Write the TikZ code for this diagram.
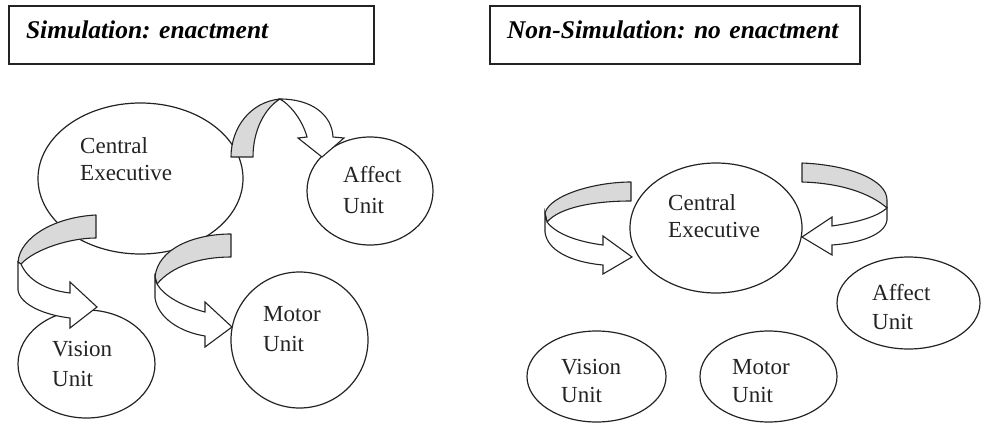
\documentclass[tikz,border=0pt]{standalone}
\usepackage{fontspec}
\setmainfont{Liberation Serif}
\usepackage{tikz}
\usetikzlibrary{shapes.geometric}
\frenchspacing
\definecolor{darkLine}{RGB}{35,35,35}
\definecolor{ribbonGray}{RGB}{217,217,217}
\tikzset{
    headbox/.style={rectangle, draw=darkLine, line width=2pt, anchor=north west, align=left,
                    inner xsep=17pt, inner ysep=0pt, text height=17pt, text depth=11pt,
                    minimum height=58pt, font=\fontsize{25.5}{30}\selectfont\bfseries\itshape},
    unit/.style={ellipse, draw=darkLine, line width=1.2pt, inner sep=0pt},
    unitlbl/.style={anchor=north west, align=left, inner sep=0pt, text=darkLine,
                    font=\fontsize{23}{#1}\selectfont},
    unitlbl/.default=29,
    backside/.style={fill=ribbonGray, draw=darkLine, line width=1.1pt, line join=round},
    frontside/.style={fill=white, draw=darkLine, line width=1.1pt, line join=miter}
}
\begin{document}
\begin{tikzpicture}[x=1pt, y=-1pt]
    \useasboundingbox (0,0) rectangle (985,423);
    % headings
    \node[headbox, text width=331pt] (simhead) at (8,5) {Simulation: enactment};
    \node[headbox, text width=336pt] (nonhead) at (489,5) {Non-Simulation: no enactment};
    % simulation side
    \node[unit, minimum width=205pt, minimum height=151pt] (ceA) at (140.5,178.5) {};
    \node[unit, minimum width=126pt, minimum height=108pt] (afA) at (370,191) {};
    \node[unit, minimum width=137pt, minimum height=108pt] (viA) at (86.5,364) {};
    \node[unit, minimum width=137pt, minimum height=136pt] (moA) at (299.5,340) {};
    \node[unitlbl=27] (ceAtxt) at (80,137.4) {Central\\Executive};
    \node[unitlbl=31] (afAtxt) at (343,166.4) {Affect\\Unit};
    \node[unitlbl=30] (viAtxt) at (52,341.4) {Vision\\Unit};
    \node[unitlbl=30] (moAtxt) at (263,306.4) {Motor\\Unit};
    % ribbon: executive -> affect
    \path[backside] (231,157) .. controls (231,128) and (250,102) .. (280,99)
        .. controls (265,108) and (253,130) .. (253,157) -- cycle;
    \path[frontside] (280,99) .. controls (312,99) and (332,115) .. (333,137) -- (344,138) -- (322,157)
        -- (298,138) -- (307,137) .. controls (303,122) and (292,106) .. (280,99) -- cycle;
    % ribbon: executive -> vision
    \path[backside] (96,215) .. controls (55,217) and (20,237) .. (18,262) -- (21,264)
        .. controls (35,249) and (70,238) .. (96,238) -- cycle;
    \path[frontside] (18,262) -- (18,290) .. controls (20,305) and (45,315) .. (70,318) -- (70,328)
        -- (97,307) -- (70,282) -- (70,293) .. controls (45,290) and (28,280) .. (21,264) -- cycle;
    % ribbon: executive -> motor
    \path[backside] (231,234) .. controls (195,234) and (158,248) .. (155,277) -- (157,284)
        .. controls (172,266) and (200,257) .. (231,257) -- cycle;
    \path[frontside] (155,277) -- (155,298) .. controls (158,318) and (180,332) .. (205,336) -- (205,347)
        -- (232,327) -- (205,302) -- (205,312) .. controls (182,306) and (164,296) .. (157,284) -- cycle;
    % non-simulation side
    \node[unit, minimum width=172pt, minimum height=130pt] (ceB) at (716,228) {};
    \node[unit, minimum width=143pt, minimum height=92pt] (afB) at (908.5,303) {};
    \node[unit, minimum width=139pt, minimum height=91pt] (viB) at (596.5,376.5) {};
    \node[unit, minimum width=137pt, minimum height=91pt] (moB) at (768.5,376.5) {};
    \node[unitlbl=27] (ceBtxt) at (668,194.4) {Central\\Executive};
    \node[unitlbl] (afBtxt) at (872,284.4) {Affect\\Unit};
    \node[unitlbl=28] (viBtxt) at (561,359.4) {Vision\\Unit};
    \node[unitlbl=28] (moBtxt) at (732,359.4) {Motor\\Unit};
    % ribbon from the left back into the executive
    \path[backside] (631,182) .. controls (595,182) and (550,195) .. (545,213) -- (547,222)
        .. controls (560,207) and (595,201) .. (631,201) -- cycle;
    \path[frontside] (545,213) -- (545,232) .. controls (547,250) and (570,262) .. (603,265) -- (603,274)
        -- (632,257) -- (603,236) -- (603,245) .. controls (580,242) and (557,235) .. (547,222) -- cycle;
    % ribbon from the right back into the executive
    \path[backside] (802,163) .. controls (850,165) and (887,180) .. (887,200) -- (887,208)
        .. controls (870,193) and (840,183) .. (802,182) -- cycle;
    \path[frontside] (887,208) -- (887,220) .. controls (885,235) and (860,243) .. (832,245) -- (832,255)
        -- (802,237) -- (832,217) -- (832,226) .. controls (860,222) and (878,216) .. (887,208) -- cycle;
\end{tikzpicture}
\end{document}
